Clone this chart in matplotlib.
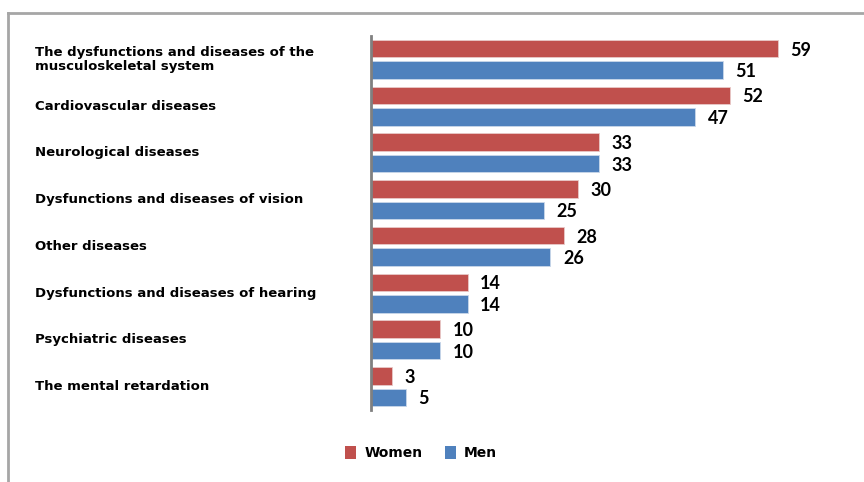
import numpy as np
import matplotlib
matplotlib.use("Agg")
import matplotlib.pyplot as plt
from matplotlib.patches import Patch
from matplotlib.lines import Line2D
from matplotlib.transforms import blended_transform_factory

# Data
categories = [
    "The dysfunctions and diseases of the\nmusculoskeletal system",
    "Cardiovascular diseases",
    "Neurological diseases",
    "Dysfunctions and diseases of vision",
    "Other diseases",
    "Dysfunctions and diseases of hearing",
    "Psychiatric diseases",
    "The mental retardation",
]
women = [59, 52, 33, 30, 28, 14, 10, 3]
men = [51, 47, 33, 25, 26, 14, 10, 5]

RED = "#C0504D"
BLUE = "#4F81BD"

fig = plt.figure(figsize=(8.64, 4.82), dpi=100)
fig.patch.set_facecolor("white")

# outer frame (only top and left visible)
fig.add_artist(Line2D([8 / 864, 1], [1 - 13 / 482, 1 - 13 / 482],
                      transform=fig.transFigure, color="#A6A6A6", lw=2))
fig.add_artist(Line2D([8 / 864, 8 / 864], [0, 1 - 13 / 482],
                      transform=fig.transFigure, color="#A6A6A6", lw=2))

ax = fig.add_axes([371 / 864, 0.1494, 483 / 864, 0.7759])

y = np.arange(len(categories))
h = 0.37
ax.barh(y - 0.23, women, height=h, color=RED, edgecolor="#E8C9C8", linewidth=0.6)
ax.barh(y + 0.23, men, height=h, color=BLUE, edgecolor="#C9D7EA", linewidth=0.6)

for yi, w, m in zip(y, women, men):
    ax.annotate(str(w), (w, yi - 0.23), xytext=(9, -1), textcoords="offset points",
                va="center", ha="left", fontsize=13, fontweight="bold", family="Lato")
    ax.annotate(str(m), (m, yi + 0.23), xytext=(9, -1), textcoords="offset points",
                va="center", ha="left", fontsize=13, fontweight="bold", family="Lato")

ax.set_xlim(0, 70)
ax.set_ylim(len(categories) - 0.5, -0.5)
ax.set_xticks([])
ax.set_yticks([])
for s in ["top", "right", "bottom"]:
    ax.spines[s].set_visible(False)
ax.spines["left"].set_color("#808080")
ax.spines["left"].set_linewidth(2)

# category labels, left aligned in the left column
trans = blended_transform_factory(fig.transFigure, ax.transData)
for yi, cat in zip(y, categories):
    ax.text(35 / 864, yi, cat, transform=trans, ha="left", va="center",
            fontsize=9.5, fontweight="bold", linespacing=1.05)

handles = [Patch(facecolor=RED, edgecolor="none", label="Women"),
           Patch(facecolor=BLUE, edgecolor="none", label="Men")]
fig.legend(handles=handles, loc="center", bbox_to_anchor=(421 / 864, 1 - 453 / 482),
           ncol=2, frameon=False, handlelength=0.8, handleheight=1.1,
           handletextpad=0.6, columnspacing=1.6,
           prop={"weight": "bold", "size": 10})

fig.savefig("out.png", dpi=100)
